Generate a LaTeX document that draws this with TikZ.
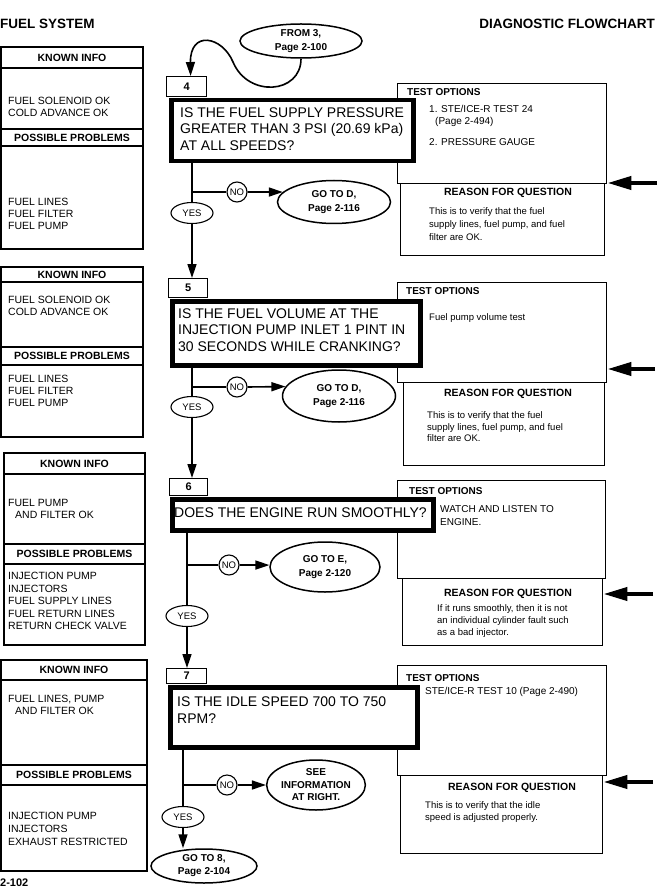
\documentclass[tikz,border=0pt]{standalone}
\usepackage{fontspec}
\setmainfont{Liberation Sans}
\usetikzlibrary{shapes.geometric,arrows.meta}
\begin{document}
\begin{tikzpicture}[x=1pt,y=-1pt,
 panel/.style={draw,line width=1.1pt},
 hd/.style={font=\fontsize{10.5}{12}\selectfont\bfseries,inner sep=0},
 lt/.style={font=\fontsize{10.5}{12.2}\selectfont,anchor=west,inner sep=0,align=left},
 rbox/.style={draw,line width=1.4pt,rectangle,inner sep=0,anchor=north west},
 qbox/.style={draw,line width=4.5pt,fill=white,rectangle,inner sep=0,anchor=north west},
 qtext/.style={font=\fontsize{14}{16.5}\selectfont,anchor=west,inner sep=0,align=left},
 tabbox/.style={draw,line width=1.2pt,fill=white,rectangle,inner sep=0,anchor=north west,font=\fontsize{11}{12}\selectfont\bfseries},
 oval/.style={ellipse,draw,line width=1.5pt,fill=white,inner sep=0,align=center,font=\fontsize{10}{13.5}\selectfont\bfseries},
 yesnode/.style={ellipse,draw,line width=1.1pt,fill=white,minimum width=42pt,minimum height=21pt,inner sep=0,font=\fontsize{9.5}{10}\selectfont},
 nonode/.style={circle,draw,line width=1.1pt,fill=white,minimum size=20pt,inner sep=0,font=\fontsize{9.5}{10}\selectfont},
 flowline/.style={line width=1.6pt},
 flowarrow/.style={line width=1.6pt,-{Triangle[length=14pt,width=9pt]}},
 bigarrow/.style={line width=4pt,-{Triangle[length=24pt,width=13pt]}},
 tohead/.style={font=\fontsize{10}{12}\selectfont\bfseries,anchor=west,inner sep=0},
 totext/.style={font=\fontsize{10}{12.5}\selectfont,anchor=west,inner sep=0,align=left},
 rqhead/.style={font=\fontsize{10.5}{12}\selectfont\bfseries,inner sep=0},
 rqtext/.style={font=\fontsize{9.5}{13}\selectfont,anchor=west,inner sep=0,align=left},
]
\useasboundingbox[fill=white] (0,0) rectangle (665,893);

% titles
\node[font=\fontsize{13.5}{15}\selectfont\bfseries,anchor=west,inner sep=0] (title) at (0,24) {FUEL SYSTEM};
\node[font=\fontsize{13.5}{15}\selectfont\bfseries,anchor=east,inner sep=0] (chart) at (655,24) {DIAGNOSTIC FLOWCHART};
\node[font=\fontsize{11}{12}\selectfont\bfseries,anchor=west,inner sep=0] (pg) at (0,883) {2-102};

% ---------- left panels ----------
\draw[panel] (1,47) rectangle (143,249);
\draw[panel] (1,68) -- (143,68) (1,129) -- (143,129) (1,146) -- (143,146);
\node[hd] (k1) at (72,57.5) {KNOWN INFO};
\node[lt] (k1t) at (8,106.5) {FUEL SOLENOID OK\\COLD ADVANCE OK};
\node[hd] (p1) at (72,137.5) {POSSIBLE PROBLEMS};
\node[lt] (p1t) at (8,214) {FUEL LINES\\FUEL FILTER\\FUEL PUMP};

\draw[panel] (1,267) rectangle (143,437);
\draw[panel] (1,282) -- (143,282) (1,347) -- (143,347) (1,365) -- (143,365);
\node[hd] (k2) at (72,274.5) {KNOWN INFO};
\node[lt] (k2t) at (8,306) {FUEL SOLENOID OK\\COLD ADVANCE OK};
\node[hd] (p2) at (72,356) {POSSIBLE PROBLEMS};
\node[lt] (p2t) at (8,391) {FUEL LINES\\FUEL FILTER\\FUEL PUMP};

\draw[panel] (4,453) rectangle (145,645);
\draw[panel] (4,474) -- (145,474) (4,544) -- (145,544) (4,564) -- (145,564);
\node[hd] (k3) at (74.5,463.5) {KNOWN INFO};
\node[lt] (k3t) at (8,509) {FUEL PUMP\\\hspace*{7pt}AND FILTER OK};
\node[hd] (p3) at (74.5,554) {POSSIBLE PROBLEMS};
\node[lt,font=\fontsize{10.5}{12.5}\selectfont] (p3t) at (8,601) {INJECTION PUMP\\INJECTORS\\FUEL SUPPLY LINES\\FUEL RETURN LINES\\RETURN CHECK VALVE};

\draw[panel] (1,660) rectangle (147,871);
\draw[panel] (1,680) -- (147,680) (1,765) -- (147,765) (1,785) -- (147,785);
\node[hd] (k4) at (74,670) {KNOWN INFO};
\node[lt] (k4t) at (8,704.5) {FUEL LINES, PUMP\\\hspace*{7pt}AND FILTER OK};
\node[hd] (p4) at (74,775) {POSSIBLE PROBLEMS};
\node[lt,font=\fontsize{10.5}{13}\selectfont] (p4t) at (8,829) {INJECTION PUMP\\INJECTORS\\EXHAUST RESTRICTED};

% ---------- right boxes ----------
\node[rbox,minimum width=204pt,minimum height=72pt] (rq1) at (400,183) {};
\node[rbox,minimum width=209pt,minimum height=100pt] (to1) at (397,83) {};
\node[rbox,minimum width=201pt,minimum height=83pt] (rq2) at (403,382) {};
\node[rbox,minimum width=209pt,minimum height=100pt] (to2) at (397,282) {};
\node[rbox,minimum width=200pt,minimum height=67pt] (rq3) at (402,578) {};
\node[rbox,minimum width=208pt,minimum height=98pt] (to3) at (397,480) {};
\node[rbox,minimum width=202pt,minimum height=78pt] (rq4) at (400,775) {};
\node[rbox,minimum width=209pt,minimum height=110pt] (to4) at (397,665) {};

% texts right
\node[tohead] (to1h) at (407,92) {TEST OPTIONS};
\node[totext,font=\fontsize{10}{12}\selectfont] (to1a) at (429,116) {1. STE/ICE-R TEST 24\\\hspace*{6pt}(Page 2-494)};
\node[totext] (to1b) at (429,142) {2. PRESSURE GAUGE};
\node[rqhead] (rq1h) at (508,193) {REASON FOR QUESTION};
\node[rqtext] (rq1t) at (429,224) {This is to verify that the fuel\\supply lines, fuel pump, and fuel\\filter are OK.};

\node[tohead] (to2h) at (406,291) {TEST OPTIONS};
\node[totext,font=\fontsize{9.5}{12}\selectfont] (to2a) at (429,318) {Fuel pump volume test};
\node[rqhead] (rq2h) at (508,394) {REASON FOR QUESTION};
\node[rqtext,font=\fontsize{9.5}{11.5}\selectfont] (rq2t) at (427,427) {This is to verify that the fuel\\supply lines, fuel pump, and fuel\\filter are OK.};

\node[tohead] (to3h) at (409,491) {TEST OPTIONS};
\node[totext,font=\fontsize{10}{13}\selectfont] (to3a) at (440,515.5) {WATCH AND LISTEN TO\\ENGINE.};
\node[rqhead] (rq3h) at (508,594) {REASON FOR QUESTION};
\node[rqtext,font=\fontsize{9.5}{12}\selectfont] (rq3t) at (437,621.5) {If it runs smoothly, then it is not\\an individual cylinder fault such\\as a bad injector.};

\node[tohead] (to4h) at (406,678) {TEST OPTIONS};
\node[totext] (to4a) at (425,692) {STE/ICE-R TEST 10 (Page 2-490)};
\node[rqhead] (rq4h) at (512,788) {REASON FOR QUESTION};
\node[rqtext,font=\fontsize{9.5}{12}\selectfont] (rq4t) at (425,812) {This is to verify that the idle\\speed is adjusted properly.};

% big arrows
\coordinate (a1) at (657,183);
\coordinate (a2) at (655,369);
\coordinate (a3) at (653,594);
\coordinate (a4) at (653,782);
\draw[bigarrow] (a1) -- (a1 -| to1.east);
\draw[bigarrow] (a2) -- (a2 -| to2.east);
\draw[bigarrow] (a3) -- (a3 -| rq3.east);
\draw[bigarrow] (a4) -- (a4 -| rq4.east);

% ---------- question boxes ----------
\node[tabbox,minimum width=40pt,minimum height=20pt] (tab4) at (166,76) {4};
\node[qbox,minimum width=242pt,minimum height=61pt] (q4) at (169,98) {};
\node[qtext] (q4t) at (180,129) {IS THE FUEL SUPPLY PRESSURE\\GREATER THAN 3 PSI (20.69 kPa)\\AT ALL SPEEDS?};

\node[tabbox,minimum width=39pt,minimum height=19pt] (tab5) at (168,278) {5};
\node[qbox,minimum width=248pt,minimum height=64pt] (q5) at (170,299) {};
\node[qtext] (q5t) at (178,330) {IS THE FUEL VOLUME AT THE\\INJECTION PUMP INLET 1 PINT IN\\30 SECONDS WHILE CRANKING?};

\node[tabbox,minimum width=38pt,minimum height=17pt] (tab6) at (169,478) {6};
\node[qbox,minimum width=261pt,minimum height=31pt] (q6) at (170,497) {};
\node[qtext] (q6t) at (174,512.5) {DOES THE ENGINE RUN SMOOTHLY?};

\node[tabbox,minimum width=40pt,minimum height=15pt] (tab7) at (166,668) {7};
\node[qbox,minimum width=247pt,minimum height=60pt] (q7) at (168,685) {};
\node[qtext] (q7t) at (177,710) {IS THE IDLE SPEED 700 TO 750\\RPM?};

% ---------- ovals ----------
\node[oval,minimum width=122pt,minimum height=34pt] (from3) at (301,41) {FROM 3,\\Page 2-100};
\node[oval,minimum width=113pt,minimum height=43pt] (goD1) at (334,202) {GO TO D,\\Page 2-116};
\node[oval,minimum width=113pt,minimum height=52pt] (goD2) at (339,396) {GO TO D,\\Page 2-116};
\node[oval,minimum width=110pt,minimum height=50pt] (goE) at (325,567) {GO TO E,\\Page 2-120};
\node[oval,minimum width=96pt,minimum height=50pt,font=\fontsize{10}{12.5}\selectfont\bfseries] (see) at (316,785) {SEE\\INFORMATION\\AT RIGHT.};
\node[oval,minimum width=106pt,minimum height=34pt,font=\fontsize{10}{13}\selectfont\bfseries] (goto8) at (204,866) {GO TO 8,\\Page 2-104};

\node[yesnode] (yes4) at (192,213) {YES};
\node[yesnode] (yes5) at (192,407) {YES};
\node[yesnode] (yes6) at (187,616) {YES};
\node[yesnode] (yes7) at (183,817) {YES};
\node[nonode] (no4) at (237,192) {NO};
\node[nonode] (no5) at (237,387) {NO};
\node[nonode] (no6) at (229,565) {NO};
\node[nonode] (no7) at (227,785) {NO};

% ---------- connectors ----------
\draw[flowarrow] (from3.south) .. controls (301,94) and (248,98) .. (233,62) .. controls (222,36) and (190,30) .. ([xshift=4pt]tab4.north);

\draw[flowline] (q4.south -| yes4) -- (yes4.north);
\draw[flowarrow] (yes4.south) -- (yes4.south |- tab5.north);
\draw[flowline] (yes4 |- no4) -- (no4.west);
\draw[flowarrow] (no4.east) -- (goD1.169);

\draw[flowline] (q5.south -| yes5) -- (yes5.north);
\draw[flowarrow] (yes5.south) -- (yes5.south |- tab6.north);
\draw[flowline] (yes5 |- no5) -- (no5.west);
\draw[flowarrow] (no5.east) -- (goD2.170);

\draw[flowline] (q6.south -| yes6) -- (yes6.north);
\draw[flowarrow] (yes6.south) -- (yes6.south |- tab7.north);
\draw[flowline] (yes6 |- no6) -- (no6.west);
\draw[flowarrow] (no6.east) -- (goE.178);

\draw[flowline] (q7.south -| yes7) -- (yes7.north);
\draw[flowarrow] (yes7.south) -- (yes7.south |- goto8.north);
\draw[flowline] (yes7 |- no7) -- (no7.west);
\draw[flowarrow] (no7.east) -- (see.west);
\end{tikzpicture}
\end{document}
